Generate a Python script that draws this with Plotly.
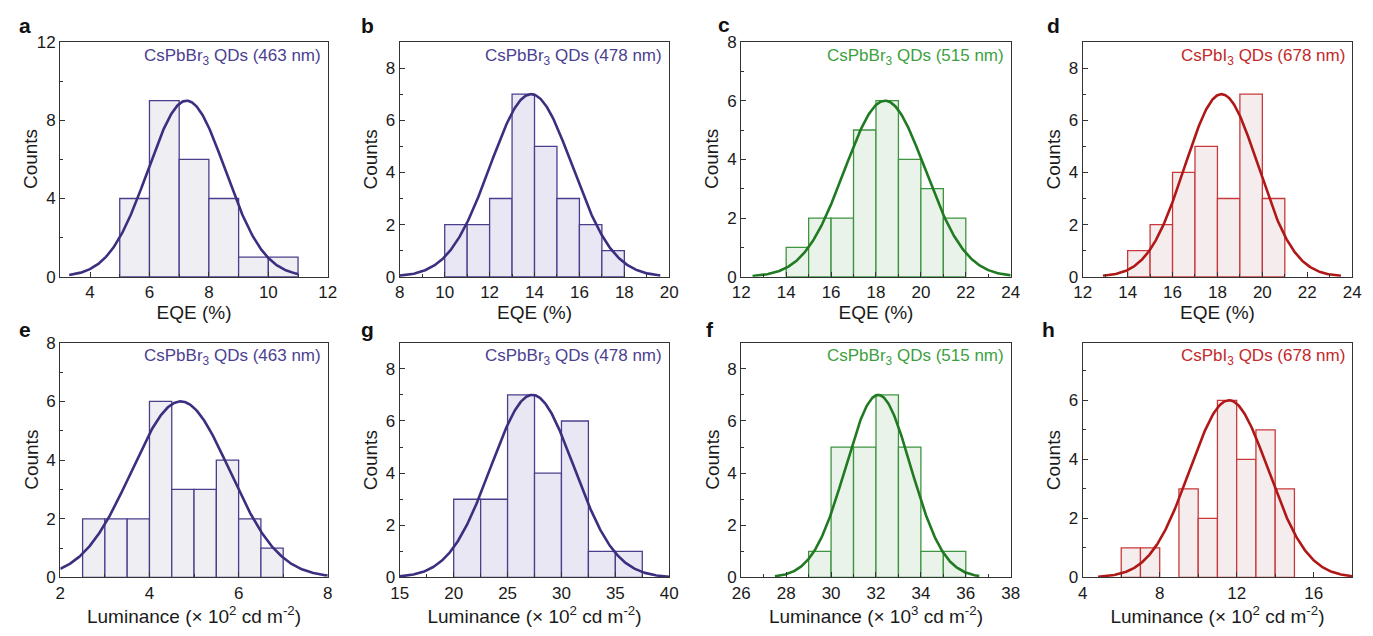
import numpy as np
import plotly.graph_objects as go

# ---------------- data ----------------
panel_letters = ["a", "b", "c", "d", "e", "g", "f", "h"]
panel_labels = [
    "CsPbBr<sub>3</sub> QDs (463 nm)", "CsPbBr<sub>3</sub> QDs (478 nm)",
    "CsPbBr<sub>3</sub> QDs (515 nm)", "CsPbI<sub>3</sub> QDs (678 nm)",
    "CsPbBr<sub>3</sub> QDs (463 nm)", "CsPbBr<sub>3</sub> QDs (478 nm)",
    "CsPbBr<sub>3</sub> QDs (515 nm)", "CsPbI<sub>3</sub> QDs (678 nm)",
]
x_titles = ["EQE (%)"] * 4 + [
    "Luminance (× 10<sup>2</sup> cd m<sup>-2</sup>)",
    "Luminance (× 10<sup>2</sup> cd m<sup>-2</sup>)",
    "Luminance (× 10<sup>3</sup> cd m<sup>-2</sup>)",
    "Luminance (× 10<sup>2</sup> cd m<sup>-2</sup>)",
]
y_title = "Counts"

# histogram bins: left edges, bin width, counts
a_left = [5, 6, 7, 8, 9, 10];                a_w = 1;   a_counts = [4, 9, 6, 4, 1, 1]
b_left = [10, 11, 12, 13, 14, 15, 16, 17];   b_w = 1;   b_counts = [2, 2, 3, 7, 5, 3, 2, 1]
c_left = [14, 15, 16, 17, 18, 19, 20, 21];   c_w = 1;   c_counts = [1, 2, 2, 5, 6, 4, 3, 2]
d_left = [14, 15, 16, 17, 18, 19, 20];       d_w = 1;   d_counts = [1, 2, 4, 5, 3, 7, 3]
e_left = [2.5, 3, 3.5, 4, 4.5, 5, 5.5, 6, 6.5]; e_w = 0.5; e_counts = [2, 2, 2, 6, 3, 3, 4, 2, 1]
g_left = [20, 22.5, 25, 27.5, 30, 32.5, 35]; g_w = 2.5; g_counts = [3, 3, 7, 4, 6, 1, 1]
f_left = [29, 30, 31, 32, 33, 34, 35];       f_w = 1;   f_counts = [1, 5, 5, 7, 5, 1, 1]
h_left = [6, 7, 9, 10, 11, 12, 13, 14];      h_w = 1;   h_counts = [1, 1, 3, 2, 6, 4, 5, 3]

# Gaussian fit parameters
fit_amp    = [9, 7, 6, 7, 6, 7, 7, 6]
fit_center = [7.25, 13.85, 18.4, 18.18, 4.7, 27.3, 32.1, 11.6]
fit_sigma  = [1.3, 1.83, 1.8, 1.63, 1.1, 3.85, 1.45, 2.04]
fit_start  = [3.3, 8.0, 12.5, 12.9, 2.0, 15.0, 27.5, 4.8]
fit_end    = [11.0, 19.6, 24.0, 23.5, 8.0, 40.0, 36.6, 18.0]

# axes
x_ranges = [[3, 12], [8, 20], [12, 24], [12, 24], [2, 8], [15, 40], [26, 38], [4, 18]]
x_dticks = [2, 2, 2, 2, 2, 5, 2, 4]
y_ranges = [[0, 12], [0, 9], [0, 8], [0, 9], [0, 8], [0, 9], [0, 9], [0, 7.95]]
y_dticks = [4, 2, 2, 2, 2, 2, 2, 2]

# ---------------- styling ----------------
PURPLE = dict(line="#3b2f80", edge="#4a3f8c", text="#4b3f90")
GREEN = dict(line="#1f7a21", edge="#3f9440", text="#3d9f3f")
RED = dict(line="#b01818", edge="#c8383a", text="#c2292b")
palettes = [PURPLE, PURPLE, GREEN, RED, PURPLE, PURPLE, GREEN, RED]
fills = ["#eeeef3", "#e9e7f3", "#e9f3e9", "#f5eded", "#eeeef3", "#e9e7f3", "#e9f3e9", "#f5eded"]

bins = [(a_left, a_w, a_counts), (b_left, b_w, b_counts), (c_left, c_w, c_counts),
        (d_left, d_w, d_counts), (e_left, e_w, e_counts), (g_left, g_w, g_counts),
        (f_left, f_w, f_counts), (h_left, h_w, h_counts)]

W, H = 1373, 636
col_px = [(52, 323), (396, 669), (742, 1015), (1088, 1361)]
row_px = [(34, 276), (344, 586)]
letter_px = [(16, 17), (363, 17), (724, 16), (1058, 17),
             (16, 330), (363, 330), (710, 330), (1053, 330)]

FONT = "Liberation Sans, Arial, Helvetica, sans-serif"
AXC = "#333333"
TXT = "#1a1a1a"

fig = go.Figure()
layout = dict(
    width=W, height=H, margin=dict(l=0, r=0, t=0, b=0),
    paper_bgcolor="white", plot_bgcolor="white", showlegend=False,
    font=dict(family=FONT, size=17, color=TXT),
    annotations=[],
)

for i in range(8):
    r, c = divmod(i, 4)
    n = i + 1
    xa = "x" if n == 1 else f"x{n}"
    ya = "y" if n == 1 else f"y{n}"
    pal = palettes[i]
    left, w, counts = bins[i]

    fig.add_trace(go.Bar(
        x=left, y=counts, width=w, offset=0,
        marker=dict(color=fills[i], line=dict(color=pal["edge"], width=1.3)),
        xaxis=xa, yaxis=ya, hoverinfo="skip",
    ))
    xs = np.linspace(fit_start[i], fit_end[i], 300)
    ys = fit_amp[i] * np.exp(-(xs - fit_center[i]) ** 2 / (2 * fit_sigma[i] ** 2))
    fig.add_trace(go.Scatter(
        x=xs, y=ys, mode="lines", line=dict(color=pal["line"], width=2.6),
        xaxis=xa, yaxis=ya, hoverinfo="skip", cliponaxis=True,
    ))

    x0, x1 = col_px[c]
    y0, y1 = row_px[r]
    pw = x1 - x0
    common = dict(showline=True, linecolor=AXC, linewidth=1.3, mirror=True,
                  ticks="inside", ticklen=5, tickwidth=1.2, tickcolor=AXC,
                  showgrid=False, zeroline=False,
                  tickfont=dict(size=17, family=FONT, color=TXT))
    layout["xaxis" if n == 1 else f"xaxis{n}"] = dict(
        domain=[x0 / W, x1 / W], anchor=ya, range=x_ranges[i],
        tick0=0, dtick=x_dticks[i],
        minor=dict(ticks="inside", ticklen=3, tickwidth=1, tickcolor=AXC,
                   dtick=x_dticks[i] / 2, tick0=0),
        title=dict(text=x_titles[i], font=dict(size=19, family=FONT, color=TXT),
                   standoff=4),
        **common)
    layout["yaxis" if n == 1 else f"yaxis{n}"] = dict(
        domain=[1 - y1 / H, 1 - y0 / H], anchor=xa, range=y_ranges[i],
        tick0=0, dtick=y_dticks[i],
        minor=dict(ticks="inside", ticklen=3, tickwidth=1, tickcolor=AXC,
                   dtick=y_dticks[i] / 2, tick0=0),
        **common)

    # y-axis title, placed like the reference (about 30 px left of the frame)
    layout["annotations"].append(dict(
        xref=f"{xa} domain", yref=f"{ya} domain", x=-30 / pw, y=0.5,
        xanchor="center", yanchor="middle", textangle=-90, showarrow=False,
        text=y_title, font=dict(size=19, family=FONT, color=TXT)))
    layout["annotations"].append(dict(
        xref=f"{xa} domain", yref=f"{ya} domain", x=1 - 5 / pw, y=1 - 15 / 242,
        xanchor="right", yanchor="middle", showarrow=False,
        text=panel_labels[i], font=dict(size=17, family=FONT, color=pal["text"])))
    lx, ly = letter_px[i]
    layout["annotations"].append(dict(
        xref="paper", yref="paper", x=lx / W, y=1 - ly / H,
        xanchor="center", yanchor="middle", showarrow=False,
        text=f"<b>{panel_letters[i]}</b>", font=dict(size=21, family=FONT, color="#111111")))

fig.update_layout(**layout)
fig.write_html("out.html")
